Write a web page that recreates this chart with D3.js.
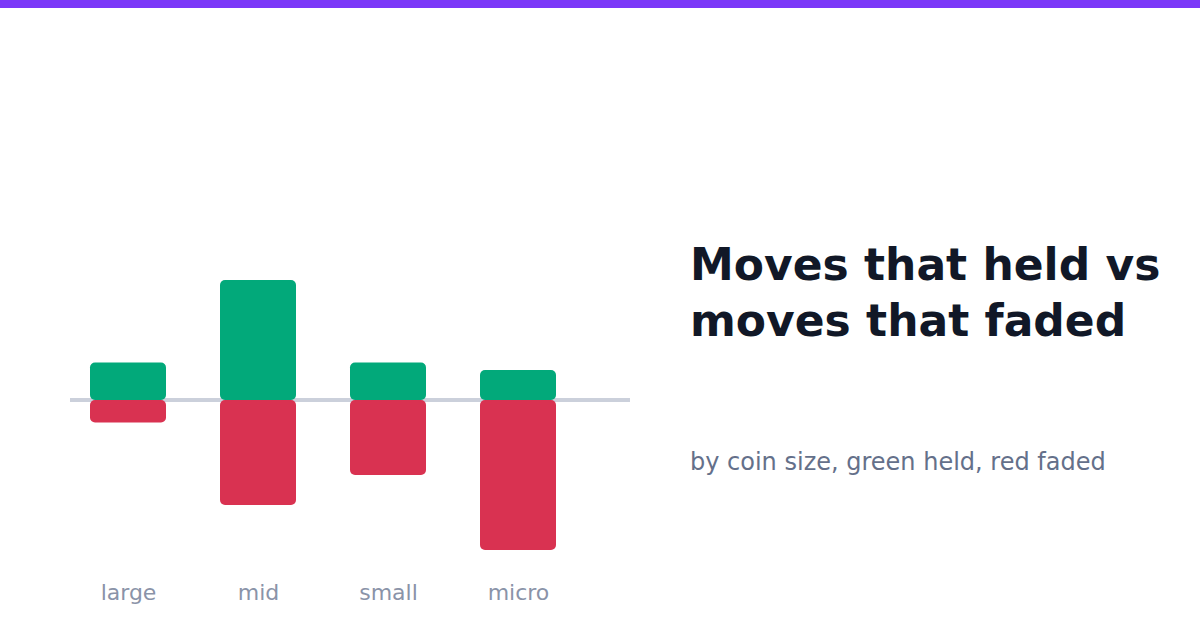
<!DOCTYPE html>
<html lang="en">
<head>
<meta charset="utf-8">
<title>Moves that held vs moves that faded</title>
<style>
  body { margin: 0; background: #fff; }
  svg { display: block; font-family: "DejaVu Sans", sans-serif; }
</style>
<script src="https://d3js.org/d3.v7.min.js"></script>
</head>
<body>
<script>
  // coin size buckets, and how many moves held / faded in each
  let sizes = ["large", "mid", "small", "micro"]
  let held = [5, 16, 5, 4]
  let faded = [3, 14, 10, 20]

  let width = 1200
  let height = 630
  let barWidth = 76

  let svg = d3.select("body")
      .append("svg")
      .attr("width", width)
      .attr("height", height)

  svg.append("rect")
      .attr("x", 0).attr("y", 0)
      .attr("width", width).attr("height", 8)
      .attr("fill", "#7b38f8")

  let xScale = d3.scalePoint()
      .domain(sizes)
      .range([128, 518])

  let yScale = d3.scaleLinear()
      .domain([-20, 16])
      .range([550, 280])

  // zero line
  svg.append("line")
      .attr("x1", 70).attr("x2", 630)
      .attr("y1", yScale(0)).attr("y2", yScale(0))
      .attr("stroke", "#cbd0db")
      .attr("stroke-width", 4)

  let rows = sizes.map((s, i) => ({ size: s, held: held[i], faded: faded[i] }))

  svg.selectAll(".held")
      .data(rows)
      .enter()
      .append("rect")
      .attr("class", "held")
      .attr("x", d => xScale(d.size) - barWidth / 2)
      .attr("y", d => yScale(d.held))
      .attr("width", barWidth)
      .attr("height", d => yScale(0) - yScale(d.held))
      .attr("rx", 5)
      .attr("fill", "#02a97a")

  svg.selectAll(".faded")
      .data(rows)
      .enter()
      .append("rect")
      .attr("class", "faded")
      .attr("x", d => xScale(d.size) - barWidth / 2)
      .attr("y", yScale(0))
      .attr("width", barWidth)
      .attr("height", d => yScale(-d.faded) - yScale(0))
      .attr("rx", 5)
      .attr("fill", "#d93251")

  let xAxis = d3.axisBottom(xScale).tickSize(0).tickPadding(0)
  let axisG = svg.append("g")
      .attr("transform", "translate(0,583)")
      .call(xAxis)
  axisG.select(".domain").remove()
  axisG.selectAll("text")
      .attr("dy", null)
      .attr("y", 17)
      .attr("font-family", "DejaVu Sans, sans-serif")
      .attr("font-size", 22)
      .attr("fill", "#8a93a8")

  let title = svg.append("text")
      .attr("x", 690)
      .attr("y", 280)
      .attr("font-size", 44)
      .attr("font-weight", "bold")
      .attr("fill", "#111827")
  title.append("tspan").attr("x", 690).text("Moves that held vs")
  title.append("tspan").attr("x", 690).attr("dy", 56).text("moves that faded")

  svg.append("text")
      .attr("x", 690)
      .attr("y", 470)
      .attr("font-size", 24)
      .attr("fill", "#64708a")
      .text("by coin size, green held, red faded")
</script>
</body>
</html>
